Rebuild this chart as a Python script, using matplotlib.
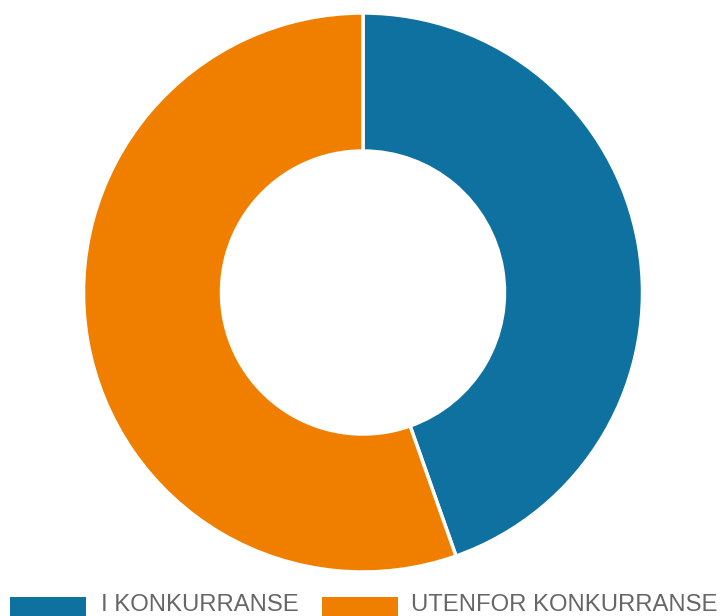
import matplotlib
matplotlib.use("Agg")
import matplotlib.pyplot as plt
from matplotlib.patches import Rectangle

categories = ["I KONKURRANSE", "UTENFOR KONKURRANSE"]
values = [44.6, 55.4]
colors = ["#0f71a0", "#f07f00"]

fig = plt.figure(figsize=(7.25, 6.16), dpi=100)
ax = fig.add_axes([0, 0, 1, 1])

R = 279.5
ax.pie(values, colors=colors, startangle=90, counterclock=False,
       center=(363, 323.5), radius=R, frame=True,
       wedgeprops=dict(width=R - 141.5, edgecolor="white", linewidth=2.5))
ax.set_xlim(0, 725)
ax.set_ylim(0, 616)
ax.set_aspect("equal")
ax.axis("off")

# legend
patch_x = [10, 322]
text_x = [101, 411]
for px, tx, lab, col in zip(patch_x, text_x, categories, colors):
    ax.add_patch(Rectangle((px, -10), 76, 29, facecolor=col, edgecolor="none", clip_on=False))
    ax.text(tx, 5, lab, fontsize=17.2, color="#666666", family="Liberation Sans",
            va="baseline", ha="left")

fig.savefig("out.png", dpi=100)
